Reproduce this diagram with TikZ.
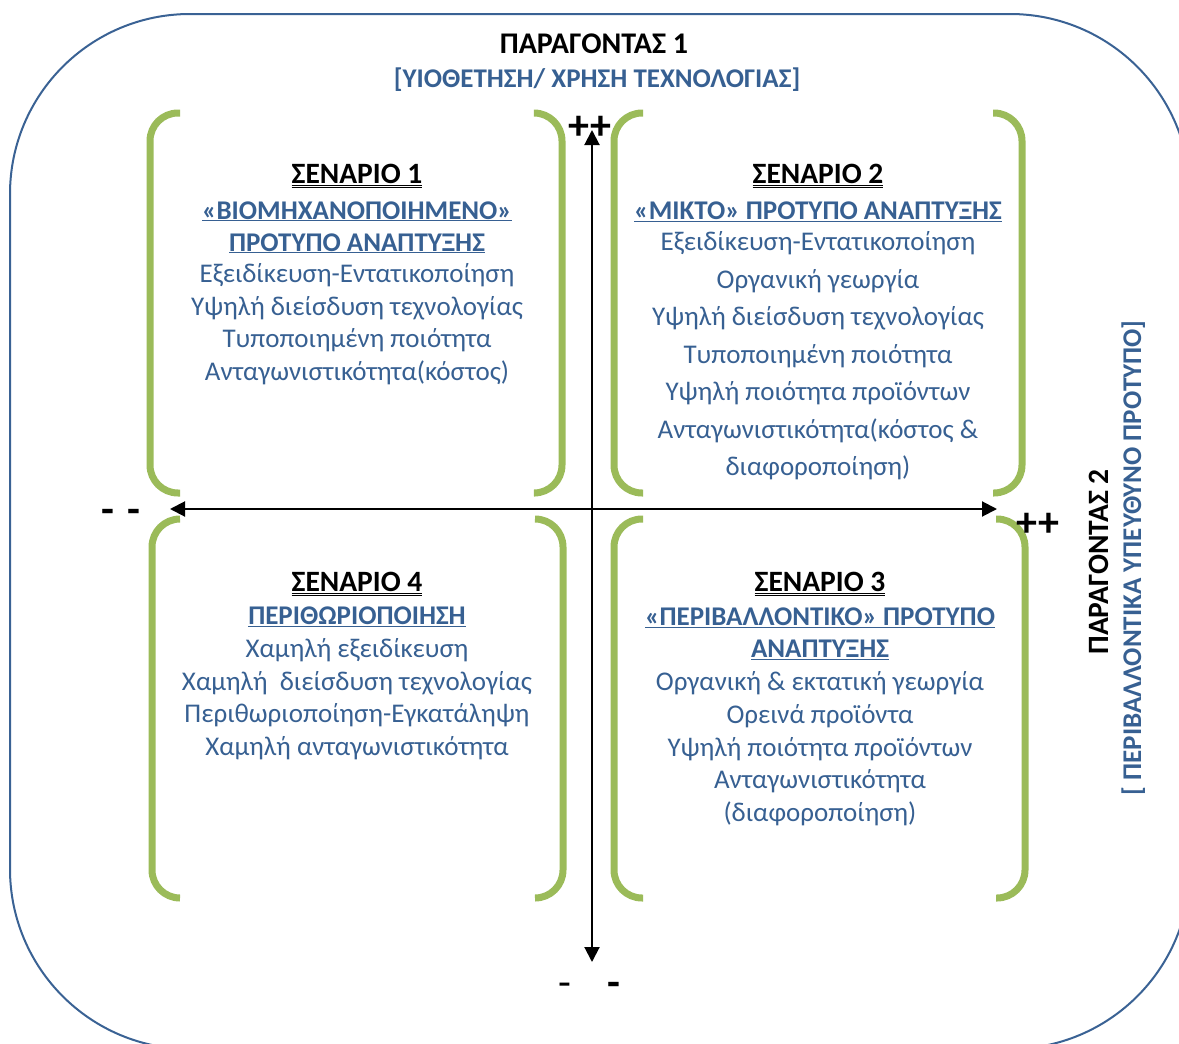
\documentclass[tikz,border=0pt]{standalone}
\usepackage{fontspec}
\setmainfont{Carlito}
\usepackage{tikz}
\usetikzlibrary{arrows.meta, positioning}
\definecolor{frameblue}{RGB}{58,98,148}
\definecolor{textblue}{RGB}{55,96,146}
\definecolor{bracketgreen}{RGB}{155,187,89}
\newcommand{\scenhead}[1]{{\color{black}\fontsize{29.5}{32}\selectfont\bfseries\underline{\underline{#1}}}}
\newcommand{\subhead}[1]{{\bfseries\underline{#1}}}

\begin{document}
\begin{tikzpicture}
  [
    x=1pt, y=-1pt,
    Frame/.style={draw=frameblue, line width=2pt, rounded corners=180pt},
    Bracket/.style={draw=bracketgreen, line width=7pt, rounded corners=28pt},
    Axis/.style={draw, line width=2pt, {Triangle[length=15pt,width=15pt]}-{Triangle[length=15pt,width=15pt]}},
    Title/.style={font=\fontsize{30}{34}\selectfont\bfseries, inner sep=0pt, anchor=base},
    SubTitle/.style={font=\fontsize{27}{30}\selectfont\bfseries, inner sep=0pt, anchor=base, text=textblue},
    Block/.style={align=center, inner sep=0pt, anchor=north, text=textblue},
    Sign/.style={font=\fontsize{42}{42}\selectfont\bfseries, inner sep=0pt}
  ]
  \useasboundingbox (0,0) rectangle (1179,1044);
  % Frame
  \draw[Frame] (10,14) rectangle (1190,1049);
  % Titles
  \node[Title] (f1) at (594,53) {ΠΑΡΑΓΟΝΤΑΣ 1};
  \node[SubTitle] (f1sub) at (597,87) {[ΥΙΟΘΕΤΗΣΗ/ ΧΡΗΣΗ ΤΕΧΝΟΛΟΓΙΑΣ]};
  \node[Title, rotate=90, font=\fontsize{29.5}{34}\selectfont\bfseries] (f2) at (1108,562) {ΠΑΡΑΓΟΝΤΑΣ 2};
  \node[SubTitle, rotate=90] (f2sub) at (1141,558) {[ ΠΕΡΙΒΑΛΛΟΝΤΙΚΑ ΥΠΕΥΘΥΝΟ ΠΡΟΤΥΠΟ]};
  % Brackets
  \draw[Bracket] (180,113) -- (150,113) -- (150,493) -- (180,493);
  \draw[Bracket] (535,113) -- (562,113) -- (562,493) -- (535,493);
  \draw[Bracket] (643,113) -- (614,113) -- (614,493) -- (643,493);
  \draw[Bracket] (993,113) -- (1022,113) -- (1022,493) -- (993,493);
  \draw[Bracket] (180,519) -- (152,519) -- (152,898) -- (180,898);
  \draw[Bracket] (535,519) -- (563,519) -- (563,898) -- (535,898);
  \draw[Bracket] (643,519) -- (614,519) -- (614,898) -- (643,898);
  \draw[Bracket] (996,519) -- (1025,519) -- (1025,898) -- (996,898);
  % Scenarios
  \node[Block, font=\fontsize{27}{32.5}\selectfont] (s1) at (357,164) {%
    \scenhead{ΣΕΝΑΡΙΟ 1}\\[3pt]
    \subhead{«ΒΙΟΜΗΧΑΝΟΠΟΙΗΜΕΝΟ»}\\[-0.5pt]
    \subhead{ΠΡΟΤΥΠΟ ΑΝΑΠΤΥΞΗΣ}\\[-1pt]
    Εξειδίκευση-Εντατικοποίηση\\
    Υψηλή διείσδυση τεχνολογίας\\
    Τυποποιημένη ποιότητα\\
    Ανταγωνιστικότητα(κόστος)};
  \node[Block, font=\fontsize{27}{37.5}\selectfont] (s2) at (818,164) {%
    \scenhead{ΣΕΝΑΡΙΟ 2}\\[-1.5pt]
    \subhead{«ΜΙΚΤΟ» ΠΡΟΤΥΠΟ ΑΝΑΠΤΥΞΗΣ}\\[-6.5pt]
    Εξειδίκευση-Εντατικοποίηση\\
    Οργανική γεωργία\\
    Υψηλή διείσδυση τεχνολογίας\\
    Τυποποιημένη ποιότητα\\
    Υψηλή ποιότητα προϊόντων\\
    Ανταγωνιστικότητα(κόστος \&\\
    διαφοροποίηση)};
  \node[Block, font=\fontsize{27}{32.7}\selectfont] (s3) at (820,572) {%
    \scenhead{ΣΕΝΑΡΙΟ 3}\\[1pt]
    \subhead{«ΠΕΡΙΒΑΛΛΟΝΤΙΚΟ» ΠΡΟΤΥΠΟ}\\
    \subhead{ΑΝΑΠΤΥΞΗΣ}\\
    Οργανική \& εκτατική γεωργία\\
    Ορεινά προϊόντα\\
    Υψηλή ποιότητα προϊόντων\\
    Ανταγωνιστικότητα\\
    (διαφοροποίηση)};
  \node[Block, font=\fontsize{27}{32.7}\selectfont] (s4) at (357,572) {%
    \scenhead{ΣΕΝΑΡΙΟ 4}\\[0.5pt]
    \subhead{ΠΕΡΙΘΩΡΙΟΠΟΙΗΣΗ}\\
    Χαμηλή εξειδίκευση\\
    Χαμηλή\ \ διείσδυση τεχνολογίας\\
    Περιθωριοποίηση-Εγκατάληψη\\
    Χαμηλή ανταγωνιστικότητα};
  % Axes
  \coordinate (top) at (592,130);
  \coordinate (bottom) at (592,962);
  \coordinate (left) at (170,509);
  \coordinate (right) at (997,509);
  \path[Axis] (bottom) -- (top);
  \path[Axis] (left) -- (right);
  % Signs
  \node[Sign] (ptop) at (590,128) {++};
  \node[Sign] (pright) at (1038,525) {++};
  \node[Sign] (mleft) at (121,516) {-\,\,-};
  \node[Sign] (mbottom) at (589,989) {{\mdseries -}\hspace{36pt}-};
\end{tikzpicture}
\end{document}
